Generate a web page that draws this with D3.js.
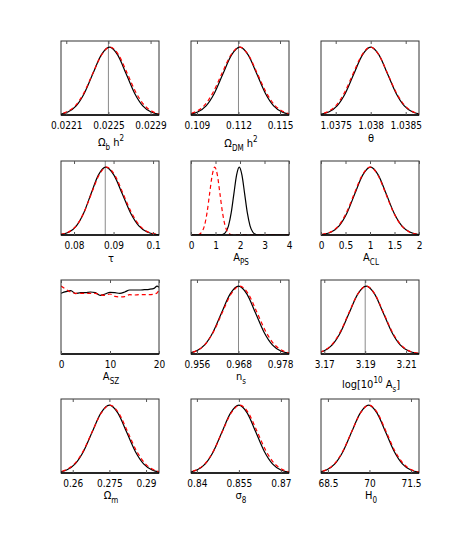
<!DOCTYPE html>
<html><head><meta charset="utf-8">
<script src="https://cdn.jsdelivr.net/npm/d3@7"></script>
<style>
html,body{margin:0;padding:0;background:#fff;}
svg{display:block;}
text{font-family:"Liberation Sans Narrow","Arial Narrow","DejaVu Sans Condensed","Liberation Sans",Arial,sans-serif;fill:#000;}
</style></head>
<body>
<script>
// ---------- DATA ----------
const domains = [
  [0.02205, 0.02298], [0.10857, 0.11565], [1.03729, 1.03869],
  [0.0767, 0.1015], [0, 4], [0, 2],
  [0, 20], [0.95492, 0.98087], [3.1684, 3.2163],
  [0.2552, 0.2953], [0.8379, 0.8729], [68.25, 71.79]
];
const tickValues = [
  [0.0221, 0.0225, 0.0229], [0.109, 0.112, 0.115], [1.0375, 1.038, 1.0385],
  [0.08, 0.09, 0.1], [0, 1, 2, 3, 4], [0, 0.5, 1, 1.5, 2],
  [0, 10, 20], [0.9565, 0.9675, 0.9785], [3.17, 3.19, 3.21],
  [0.26, 0.275, 0.29], [0.84, 0.855, 0.87], [68.5, 70, 71.5]
];
const tickLabels = [
  ["0.0221", "0.0225", "0.0229"], ["0.109", "0.112", "0.115"], ["1.0375", "1.038", "1.0385"],
  ["0.08", "0.09", "0.1"], ["0", "1", "2", "3", "4"], ["0", "0.5", "1", "1.5", "2"],
  ["0", "10", "20"], ["0.956", "0.968", "0.978"], ["3.17", "3.19", "3.21"],
  ["0.26", "0.275", "0.29"], ["0.84", "0.855", "0.87"], ["68.5", "70", "71.5"]
];
// x-axis labels: [text, kind] with kind n / sub / sup
const axisLabels = [
  [["Ω","n"],["b","sub"],[" h","n"],["2","sup"]],
  [["Ω","n"],["DM","sub"],[" h","n"],["2","sup"]],
  [["θ","n"]],
  [["τ","n"]],
  [["A","n"],["PS","sub"]],
  [["A","n"],["CL","sub"]],
  [["A","n"],["SZ","sub"]],
  [["n","n"],["s","sub"]],
  [["log[10","n"],["10","sup"],[" A","n"],["s","sub"],["]","n"]],
  [["Ω","n"],["m","sub"]],
  [["σ","n"],["8","sub"]],
  [["H","n"],["0","sub"]]
];
// fiducial (input) values drawn as grey vertical lines; null = none
const fiducial = [0.0225, 0.112, null, 0.0879, null, null, null, 0.9675, 3.19, null, null, null];

// posterior shapes (normalised to peak = 1)
const shapeBlack = [0.002, 0.011, 0.044, 0.135, 0.325, 0.607, 0.882, 1, 0.882, 0.607, 0.325, 0.135, 0.044, 0.011, 0.002];
const shapeRed   = [0.003, 0.012, 0.046, 0.138, 0.33, 0.61, 0.88, 1, 0.885, 0.612, 0.332, 0.14, 0.046, 0.012, 0.003];
const aszX = [0,1,2,3,4,5,6,7,8,9,10,11,12,13,14,15,16,17,18,19,19.6,20];
const aszBlack = [0.894,0.918,0.933,0.889,0.903,0.903,0.913,0.903,0.864,0.884,0.908,0.903,0.894,0.913,0.943,0.943,0.943,0.948,0.953,0.967,1.0,0.982];
const aszRed   = [1.0,0.953,0.913,0.894,0.894,0.894,0.894,0.894,0.874,0.864,0.884,0.849,0.840,0.845,0.874,0.869,0.874,0.874,0.874,0.884,0.90,0.943];
const apsBlackY = [0].concat(shapeBlack, [0]);
const apsRedY = [0].concat(shapeRed, [0]);

const blackX = [
  [0.021957,0.022036,0.022115,0.022194,0.022273,0.022352,0.022431,0.02251,0.022589,0.022668,0.022747,0.022826,0.022905,0.022984,0.023063],
  [0.10783,0.10844,0.10905,0.10966,0.11027,0.11088,0.11149,0.1121,0.11271,0.11332,0.11393,0.11454,0.11515,0.11576,0.11637],
  [1.03716,1.03728,1.0374,1.03752,1.03764,1.03776,1.03788,1.038,1.03812,1.03824,1.03836,1.03848,1.0386,1.03872,1.03884],
  [0.07505,0.0769,0.07875,0.0806,0.08245,0.0843,0.08615,0.088,0.0901,0.0922,0.0943,0.0964,0.0985,0.1006,0.1027],
  [0,1.2,1.31,1.42,1.53,1.64,1.75,1.86,1.97,2.08,2.19,2.3,2.41,2.52,2.63,2.74,4],
  [-0.11,0.05,0.21,0.37,0.53,0.69,0.85,1.01,1.17,1.33,1.49,1.65,1.81,1.97,2.13],
  aszX,
  [0.95182,0.95406,0.9563,0.95854,0.96078,0.96302,0.96526,0.9675,0.96974,0.97198,0.97422,0.97646,0.9787,0.98094,0.98318],
  [3.16145,3.1656,3.16975,3.1739,3.17805,3.1822,3.18635,3.1905,3.19465,3.1988,3.20295,3.2071,3.21125,3.2154,3.21955],
  [0.2505,0.254,0.2575,0.261,0.2645,0.268,0.2715,0.275,0.2785,0.282,0.2855,0.289,0.2925,0.296,0.2995],
  [0.834,0.837,0.84,0.843,0.846,0.849,0.852,0.855,0.858,0.861,0.864,0.867,0.87,0.873,0.876],
  [67.835,68.14,68.445,68.75,69.055,69.36,69.665,69.97,70.275,70.58,70.885,71.19,71.495,71.8,72.105]
];
const blackY = [shapeBlack, shapeBlack, shapeBlack, shapeBlack, apsBlackY, shapeBlack,
  aszBlack, shapeBlack, shapeBlack, shapeBlack, shapeBlack, shapeBlack];

const redX = [
  [0.021941,0.022023,0.022105,0.022187,0.022269,0.022351,0.022433,0.022515,0.022597,0.022679,0.022761,0.022843,0.022925,0.023007,0.023089],
  [0.1076,0.10824,0.10888,0.10952,0.11016,0.1108,0.11144,0.11208,0.11272,0.11336,0.114,0.11464,0.11528,0.11592,0.11656],
  [1.037134,1.037257,1.03738,1.037503,1.037626,1.037749,1.037872,1.037995,1.038118,1.038241,1.038364,1.038487,1.03861,1.038733,1.038856],
  [0.0749,0.0768,0.0787,0.0806,0.0825,0.0844,0.0863,0.0882,0.0903,0.0924,0.0945,0.0966,0.0987,0.1008,0.1029],
  [0,0.235,0.34,0.445,0.55,0.655,0.76,0.865,0.97,1.075,1.18,1.285,1.39,1.495,1.6,1.705,4],
  [-0.12,0.04,0.2,0.36,0.52,0.68,0.84,1.0,1.16,1.32,1.48,1.64,1.8,1.96,2.12],
  aszX,
  [0.9517,0.954,0.9563,0.9586,0.9609,0.9632,0.9655,0.9678,0.9701,0.9724,0.9747,0.977,0.9793,0.9816,0.9839],
  [3.1611,3.1653,3.1695,3.1737,3.1779,3.1821,3.1863,3.1905,3.1947,3.1989,3.2031,3.2073,3.2115,3.2157,3.2199],
  [0.25,0.2536,0.2572,0.2608,0.2644,0.268,0.2716,0.2752,0.2788,0.2824,0.286,0.2896,0.2932,0.2968,0.3004],
  [0.8336,0.8367,0.8398,0.8429,0.846,0.8491,0.8522,0.8553,0.8584,0.8615,0.8646,0.8677,0.8708,0.8739,0.877],
  [67.81,68.12,68.43,68.74,69.05,69.36,69.67,69.98,70.29,70.6,70.91,71.22,71.53,71.84,72.15]
];
const redY = [shapeRed, shapeRed, shapeRed, shapeRed, apsRedY, shapeRed,
  aszRed, shapeRed, shapeRed, shapeRed, shapeRed, shapeRed];

// ---------- LAYOUT ----------
const W = 463, H = 545;
const colX = [61, 191, 321], rowY = [41, 161, 280, 399];
const pw = 98, ph = 74;
// baseline offset of x label below panel bottom
const labelDy = [31, 32, 27, 27, 26, 26, 26, 26, 34, 26, 26, 26];

const svg = d3.select("body").append("svg").attr("width", W).attr("height", H);

const yScale = d3.scaleLinear().domain([0, 1.09]).range([ph, 0]);

for (let i = 0; i < 12; i++) {
  const r = Math.floor(i / 3), c = i % 3;
  const g = svg.append("g").attr("transform", `translate(${colX[c]},${rowY[r]})`);
  const x = d3.scaleLinear().domain(domains[i]).range([0, pw]);

  const clipId = "clip" + i;
  g.append("clipPath").attr("id", clipId).append("rect").attr("width", pw).attr("height", ph);
  const plot = g.append("g").attr("clip-path", `url(#${clipId})`);

  if (fiducial[i] !== null) {
    plot.append("line").attr("x1", x(fiducial[i])).attr("x2", x(fiducial[i]))
      .attr("y1", 0).attr("y2", ph).attr("stroke", "#8a8a8a").attr("stroke-width", 1);
  }

  const line = d3.line().x(d => x(d[0])).y(d => yScale(d[1])).curve(d3.curveMonotoneX);
  const bpts = blackX[i].map((v, k) => [v, blackY[i][k]]);
  const rpts = redX[i].map((v, k) => [v, redY[i][k]]);
  plot.append("path").attr("d", line(bpts)).attr("fill", "none")
    .attr("stroke", "#000").attr("stroke-width", 1.2);
  plot.append("path").attr("d", line(rpts)).attr("fill", "none")
    .attr("stroke", "#ff0000").attr("stroke-width", 1.2).attr("stroke-dasharray", "4,3");

  // frame
  g.append("rect").attr("width", pw).attr("height", ph).attr("fill", "none")
    .attr("stroke", "#333").attr("stroke-width", 1);
  g.append("line").attr("x1", 0).attr("x2", pw).attr("y1", ph).attr("y2", ph)
    .attr("stroke", "#000").attr("stroke-width", 1.6);

  // axes
  const ax = d3.axisBottom(x).tickValues(tickValues[i])
    .tickFormat((d, k) => tickLabels[i][k]).tickSizeInner(-3).tickSizeOuter(0).tickPadding(6.5);
  const axg = g.append("g").attr("transform", `translate(0,${ph})`).call(ax);
  axg.select(".domain").remove();
  axg.selectAll("line").attr("stroke", "#555");
  axg.selectAll("text").attr("font-size", 10).attr("font-family", null);
  const axt = d3.axisTop(x).tickValues(tickValues[i]).tickFormat("").tickSizeInner(-3).tickSizeOuter(0);
  const atg = g.append("g").call(axt);
  atg.select(".domain").remove();
  atg.selectAll("line").attr("stroke", "#555");

  // x label
  const t = g.append("text").attr("x", pw / 2 + 1).attr("y", ph + labelDy[i])
    .attr("text-anchor", "middle").attr("font-size", 11);
  let cur = 0;
  axisLabels[i].forEach(([s, kind]) => {
    const target = kind === "sub" ? 4 : kind === "sup" ? -5 : 0;
    t.append("tspan").attr("dy", target - cur).attr("font-size", kind === "n" ? 11 : 8).text(s);
    cur = target;
  });
}
</script>
</body></html>
